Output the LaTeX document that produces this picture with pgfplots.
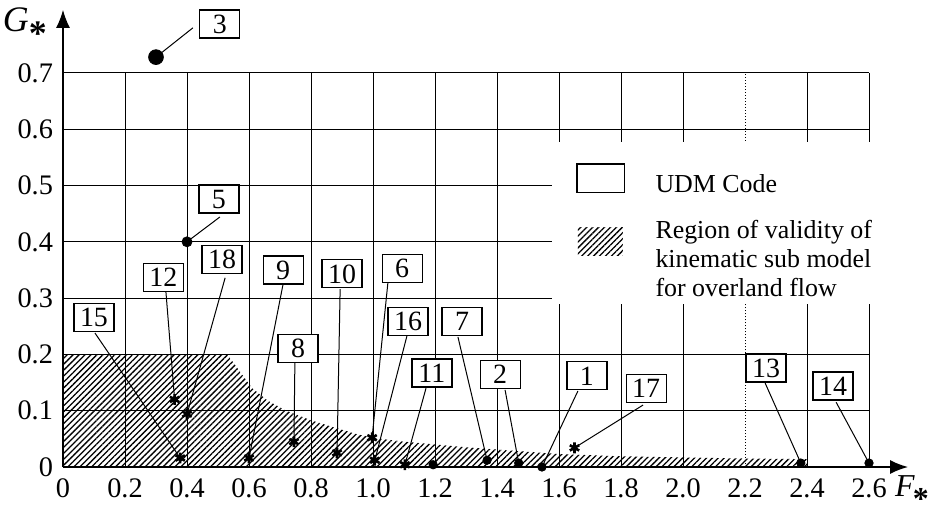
\documentclass[border=0pt]{standalone}
\usepackage{pgfplots}
\pgfplotsset{compat=1.18}
\usepackage{fontspec}
\setmainfont{Liberation Serif}
\usetikzlibrary{arrows.meta,patterns.meta}

\begin{document}
\begin{tikzpicture}[
  hatch/.style={pattern={Lines[angle=45,distance=2.1bp,line width=0.65bp]}},
  lbl/.style={draw,fill=white,line width=0.6bp,minimum width=20bp,minimum height=14bp,
    inner sep=0pt,font=\fontsize{14}{14}\selectfont},
  lead/.style={line width=0.5bp},
  grd/.style={line width=0.5bp}
]
\begin{axis}[
  x=155bp, y=281.5bp,
  xmin=0, xmax=2.726, ymin=0, ymax=0.812,
  axis lines=left,
  axis line style={line width=0.8bp,-{Latex[length=9bp,width=7bp]}},
  clip=false,
  major tick length=0pt,
  xtick={0,0.2,0.4,0.6,0.8,1,1.2,1.4,1.6,1.8,2,2.2,2.4,2.6},
  xticklabels={0,0.2,0.4,0.6,0.8,1.0,1.2,1.4,1.6,1.8,2.0,2.2,2.4,2.6},
  ytick={0,0.1,0.2,0.3,0.4,0.5,0.6,0.7},
  yticklabels={0,0.1,0.2,0.3,0.4,0.5,0.6,0.7},
  tick label style={font=\fontsize{14.2}{16}\selectfont},
  x tick label style={yshift=-2.5bp},
  y tick label style={xshift=-1.5bp},
]
\coordinate (O) at (axis cs:0,0);

% grid
\draw[grd] (axis cs:0,0.1) -- (axis cs:2.6,0.1);
\draw[grd] (axis cs:0,0.2) -- (axis cs:2.6,0.2);
\draw[grd] (axis cs:0,0.3) -- (axis cs:2.6,0.3);
\draw[grd] (axis cs:0,0.4) -- (axis cs:2.6,0.4);
\draw[grd] (axis cs:0,0.5) -- (axis cs:2.6,0.5);
\draw[grd] (axis cs:0,0.6) -- (axis cs:2.6,0.6);
\draw[grd] (axis cs:0,0.7) -- (axis cs:2.6,0.7);
\draw[grd] (axis cs:0.2,0) -- (axis cs:0.2,0.7);
\draw[grd] (axis cs:0.4,0) -- (axis cs:0.4,0.7);
\draw[grd] (axis cs:0.6,0) -- (axis cs:0.6,0.7);
\draw[grd] (axis cs:0.8,0) -- (axis cs:0.8,0.7);
\draw[grd] (axis cs:1.0,0) -- (axis cs:1.0,0.7);
\draw[grd] (axis cs:1.2,0) -- (axis cs:1.2,0.7);
\draw[grd] (axis cs:1.4,0) -- (axis cs:1.4,0.7);
\draw[grd] (axis cs:1.6,0) -- (axis cs:1.6,0.7);
\draw[grd] (axis cs:1.8,0) -- (axis cs:1.8,0.7);
\draw[grd] (axis cs:2.0,0) -- (axis cs:2.0,0.7);
\draw[grd,densely dotted] (axis cs:2.2,0) -- (axis cs:2.2,0.7);
\draw[grd] (axis cs:2.4,0) -- (axis cs:2.4,0.7);
\draw[grd] (axis cs:2.6,0) -- (axis cs:2.6,0.7);

% region of validity
\addplot[draw=none, hatch] coordinates {
  (0,0.2) (0.53,0.2) (0.57,0.17) (0.61,0.14) (0.66,0.118) (0.72,0.100)
  (0.80,0.083) (0.87,0.071) (0.95,0.058) (1.01,0.051) (1.10,0.045)
  (1.20,0.040) (1.30,0.035) (1.45,0.029) (1.60,0.023) (1.80,0.019)
  (2.00,0.017) (2.20,0.015) (2.40,0.014)
} \closedcycle;

% legend
\fill[white] (axis cs:1.577,0.29) rectangle (axis cs:2.65,0.577);
\draw[line width=0.6bp] (axis cs:1.658,0.487) rectangle (axis cs:1.81,0.538);
\fill[hatch] (axis cs:1.661,0.375) rectangle (axis cs:1.806,0.426);
\node[anchor=west,font=\fontsize{13}{14.5}\selectfont,inner sep=0pt]
  at (axis cs:1.91,0.503) {UDM Code};
\node[anchor=west,align=left,font=\fontsize{13}{14.5}\selectfont,inner sep=0pt]
  at (axis cs:1.91,0.37) {Region of validity of\\kinematic sub model\\for overland flow};

% leader lines
\draw[lead] (axis cs:0.419,0.780) -- (axis cs:0.30,0.728);
\draw[lead] (axis cs:0.506,0.444) -- (axis cs:0.40,0.40);
\draw[lead] (axis cs:0.332,0.311) -- (axis cs:0.36,0.12);
\draw[lead] (axis cs:0.523,0.336) -- (axis cs:0.40,0.094);
\draw[lead] (axis cs:0.103,0.238) -- (axis cs:0.378,0.016);
\draw[lead] (axis cs:0.710,0.325) -- (axis cs:0.60,0.016);
\draw[lead] (axis cs:0.748,0.185) -- (axis cs:0.745,0.045);
\draw[lead] (axis cs:0.894,0.316) -- (axis cs:0.884,0.025);
\draw[lead] (axis cs:1.048,0.327) -- (axis cs:0.997,0.052);
\draw[lead] (axis cs:1.110,0.234) -- (axis cs:1.006,0.012);
\draw[lead] (axis cs:1.274,0.231) -- (axis cs:1.368,0.012);
\draw[lead] (axis cs:1.171,0.140) -- (axis cs:1.103,0.004);
\draw[lead] (axis cs:1.426,0.137) -- (axis cs:1.470,0.007);
\draw[lead] (axis cs:1.661,0.135) -- (axis cs:1.545,0.0);
\draw[lead] (axis cs:1.871,0.110) -- (axis cs:1.650,0.034);
\draw[lead] (axis cs:2.265,0.149) -- (axis cs:2.380,0.007);
\draw[lead] (axis cs:2.494,0.115) -- (axis cs:2.600,0.007);

% data: stars
\addplot[only marks, mark=asterisk, mark size=2.7bp, line width=1.3bp] coordinates {
  (0.36,0.12) (0.40,0.094) (0.378,0.016) (0.60,0.016) (0.745,0.045)
  (0.884,0.025) (0.997,0.052) (1.006,0.012) (1.103,0.004) (1.65,0.034)
};
% data: dots
\addplot[only marks, mark=*, mark size=2.1bp] coordinates {
  (1.194,0.004) (1.368,0.012) (1.47,0.007) (1.545,0.0) (2.38,0.007) (2.60,0.007)
};
\addplot[only marks, mark=*, mark size=2.5bp] coordinates {(0.40,0.40)};
\addplot[only marks, mark=*, mark size=3.7bp] coordinates {(0.30,0.728)};

% labels
\node[lbl] at (axis cs:0.506,0.787) {3};
\node[lbl] at (axis cs:0.503,0.476) {5};
\node[lbl] at (axis cs:0.324,0.337) {12};
\node[lbl] at (axis cs:0.513,0.368) {18};
\node[lbl] at (axis cs:0.100,0.266) {15};
\node[lbl] at (axis cs:0.710,0.350) {9};
\node[lbl] at (axis cs:0.758,0.210) {8};
\node[lbl] at (axis cs:0.900,0.343) {10};
\node[lbl] at (axis cs:1.094,0.352) {6};
\node[lbl] at (axis cs:1.113,0.259) {16};
\node[lbl] at (axis cs:1.287,0.258) {7};
\node[lbl] at (axis cs:1.190,0.167) {11};
\node[lbl] at (axis cs:1.410,0.165) {2};
\node[lbl] at (axis cs:1.690,0.162) {1};
\node[lbl] at (axis cs:1.881,0.139) {17};
\node[lbl] at (axis cs:2.268,0.176) {13};
\node[lbl] at (axis cs:2.484,0.144) {14};

% axis names
\node[anchor=base west,inner sep=0pt,font=\fontsize{18}{18}\selectfont]
  at (axis cs:-0.195,0.773) {\textit{G}\raisebox{-7bp}{\textbf{*}}};
\node[anchor=base west,inner sep=0pt,font=\fontsize{16}{16}\selectfont]
  at (axis cs:2.683,-0.052) {\textit{F}\kern-1bp\raisebox{-6.5bp}{\textbf{*}}};
\end{axis}
\pgfresetboundingbox
\path ([shift={(-31.5bp,-25bp)}]O) rectangle ([shift={(435bp,233.5bp)}]O);
\end{tikzpicture}
\end{document}
